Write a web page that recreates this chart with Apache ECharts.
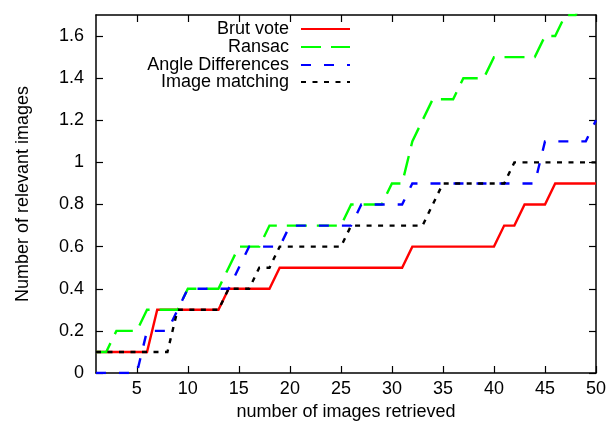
<!DOCTYPE html>
<html>
<head>
<meta charset="utf-8">
<script src="https://cdn.jsdelivr.net/npm/echarts@6/dist/echarts.min.js"></script>
<style>html,body{margin:0;padding:0;background:#fff;}#c{width:616px;height:426px;}</style>
</head>
<body>
<div id="c"></div>
<script>
const xs = [1,2,3,4,5,6,7,8,9,10,11,12,13,14,15,16,17,18,19,20,21,22,23,24,25,26,27,28,29,30,31,32,33,34,35,36,37,38,39,40,41,42,43,44,45,46,47,48,49,50];
const brutVote = [0.1,0.1,0.1,0.1,0.1,0.1,0.3,0.3,0.3,0.3,0.3,0.3,0.3,0.4,0.4,0.4,0.4,0.4,0.5,0.5,0.5,0.5,0.5,0.5,0.5,0.5,0.5,0.5,0.5,0.5,0.5,0.6,0.6,0.6,0.6,0.6,0.6,0.6,0.6,0.6,0.7,0.7,0.8,0.8,0.8,0.9,0.9,0.9,0.9,0.9];
const ransac = [0.1,0.1,0.2,0.2,0.2,0.3,0.3,0.3,0.3,0.4,0.4,0.4,0.4,0.5,0.6,0.6,0.6,0.7,0.7,0.7,0.7,0.7,0.7,0.7,0.7,0.8,0.8,0.8,0.8,0.9,0.9,1.1,1.2,1.3,1.3,1.3,1.4,1.4,1.4,1.5,1.5,1.5,1.5,1.5,1.6,1.6,1.7,1.7,1.8,1.8];
const angleDiff = [0,0,0,0,0,0.2,0.2,0.2,0.3,0.4,0.4,0.4,0.4,0.4,0.5,0.6,0.6,0.6,0.6,0.7,0.7,0.7,0.7,0.7,0.7,0.7,0.8,0.8,0.8,0.8,0.8,0.9,0.9,0.9,0.9,0.9,0.9,0.9,0.9,0.9,0.9,0.9,0.9,0.9,1.1,1.1,1.1,1.1,1.1,1.2];
const imageMatching = [0.1,0.1,0.1,0.1,0.1,0.1,0.1,0.1,0.3,0.3,0.3,0.3,0.3,0.4,0.4,0.4,0.5,0.5,0.6,0.6,0.6,0.6,0.6,0.6,0.6,0.7,0.7,0.7,0.7,0.7,0.7,0.7,0.7,0.8,0.9,0.9,0.9,0.9,0.9,0.9,0.9,1.0,1.0,1.0,1.0,1.0,1.0,1.0,1.0,1.0];
const seriesNames = ['Brut vote','Ransac','Angle Differences','Image matching'];
const xTickValues = [5,10,15,20,25,30,35,40,45,50];
const yTickValues = [0,0.2,0.4,0.6,0.8,1,1.2,1.4,1.6];

const FONT = 'Liberation Sans, Arial, Helvetica, sans-serif';
const pairs = arr => xs.map((x, i) => [x, arr[i]]);
const chart = echarts.init(document.getElementById('c'), null, {renderer: 'canvas'});

const axisCommon = {
  axisLine: {show: true, onZero: false, lineStyle: {color: '#000', width: 1.5}},
  axisTick: {show: true, inside: true, length: 7, lineStyle: {color: '#000', width: 1.2}},
  splitLine: {show: false}
};

const styles = [
  {color: '#ff0000', width: 2.4, type: 'solid'},
  {color: '#00ff00', width: 2.4, type: [20, 10]},
  {color: '#0000ff', width: 2.4, type: [10, 13]},
  {color: '#000000', width: 2.4, type: [5, 6.5]}
];
const dataArrays = [brutVote, ransac, angleDiff, imageMatching];
const legendCenters = [29, 47, 65, 82];

chart.setOption({
  animation: false,
  backgroundColor: '#fff',
  grid: {left: 96, right: 20, top: 15, bottom: 53, containLabel: false},
  legend: seriesNames.map((n, i) => ({
    data: [n],
    orient: 'vertical',
    align: 'right',
    right: 265,
    top: legendCenters[i] - 9,
    itemWidth: 49,
    itemHeight: 12,
    padding: 0,
    selectedMode: false,
    itemStyle: {opacity: 0},
    textStyle: {fontFamily: FONT, fontSize: 18, color: '#000', lineHeight: 18, padding: [0, 7, 0, 0]}
  })),
  xAxis: [
    Object.assign({}, axisCommon, {
      type: 'value', min: 1, max: 50, position: 'bottom',
      axisTick: Object.assign({}, axisCommon.axisTick, {customValues: xTickValues}),
      axisLabel: {customValues: xTickValues, fontFamily: FONT, fontSize: 18, color: '#000', margin: 7},
      name: 'number of images retrieved', nameLocation: 'middle', nameGap: 27,
      nameTextStyle: {fontFamily: FONT, fontSize: 18, color: '#000'}
    }),
    Object.assign({}, axisCommon, {
      type: 'value', min: 1, max: 50, position: 'top',
      axisTick: Object.assign({}, axisCommon.axisTick, {customValues: xTickValues}),
      axisLabel: {show: false}
    })
  ],
  yAxis: [
    Object.assign({}, axisCommon, {
      type: 'value', min: 0, max: 1.7, position: 'left',
      axisTick: Object.assign({}, axisCommon.axisTick, {customValues: yTickValues}),
      axisLabel: {customValues: yTickValues, fontFamily: FONT, fontSize: 18, color: '#000', margin: 12},
      name: 'Number of relevant images', nameLocation: 'middle', nameGap: 64, nameRotate: 90,
      nameTextStyle: {fontFamily: FONT, fontSize: 18, color: '#000'}
    }),
    Object.assign({}, axisCommon, {
      type: 'value', min: 0, max: 1.7, position: 'right',
      axisTick: Object.assign({}, axisCommon.axisTick, {customValues: yTickValues}),
      axisLabel: {show: false}
    })
  ],
  series: seriesNames.map((n, i) => ({
    name: n,
    type: 'line',
    xAxisIndex: 0,
    yAxisIndex: 0,
    data: pairs(dataArrays[i]),
    symbol: 'none',
    showSymbol: false,
    clip: true,
    color: styles[i].color,
    lineStyle: {color: styles[i].color, width: styles[i].width, type: styles[i].type, cap: 'butt', join: 'miter'},
    z: 2 + i
  }))
});
</script>
</body>
</html>
